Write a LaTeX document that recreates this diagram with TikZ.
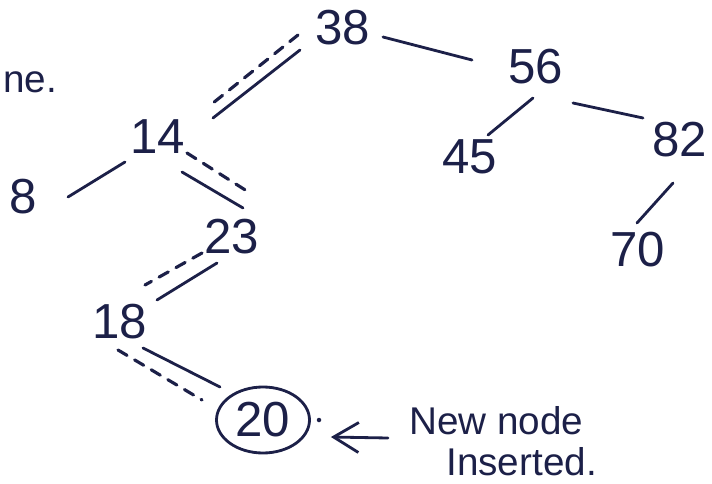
\documentclass[tikz,border=0pt]{standalone}
\usepackage{fontspec}
\setmainfont{Liberation Sans}
\usetikzlibrary{arrows.meta,shapes.geometric}
\definecolor{ink}{RGB}{28,32,72}
\begin{document}
\begin{tikzpicture}
[x=0.2mm, y=-0.2mm, line width=1.6pt, line cap=round,
num/.style={text=ink, font=\fontsize{28}{30}\selectfont, inner sep=0pt},
note/.style={text=ink, font=\fontsize{22}{25}\selectfont, inner sep=0pt},
edge/.style={draw=ink},
search/.style={draw=ink, line width=1.8pt, dash pattern=on 6pt off 5pt}]

\useasboundingbox (0,0) rectangle (712,484);

\foreach \n/\x/\y in {38/343/28, 56/536/67, 14/158/137, 45/470/157, 82/680/140,
                      8/23/197, 23/232/237, 70/638/250, 18/120/322} {
  \node[num] (n\n) at (\x,\y) {\n};
}
\node[num, draw=ink, ellipse, minimum width=18.6mm, minimum height=13.2mm] (n20) at (263,420) {20};
\fill[ink] (319,420) circle (0.45mm);

\node[note, anchor=west] (cut) at (2,82) {ne.};
\node[note, anchor=west] (new) at (408,421) {New node};
\node[note, anchor=west] (ins) at (445,462) {Inserted.};

\draw[edge] ([shift={(40,9)}]n38.center) -- ([shift={(-64,-7)}]n56.center);
\draw[edge] ([shift={(-3,31)}]n56.center) -- ([shift={(18,-22)}]n45.center);
\draw[edge] ([shift={(37,36)}]n56.center) -- ([shift={(-37,-22)}]n82.center);
\draw[edge] ([shift={(-7,43)}]n82.center) -- ([shift={(-1,-27)}]n70.center);
\draw[edge] ([shift={(-33,25)}]n14.center) -- ([shift={(45,0)}]n8.center);

\draw[edge] ([shift={(-43,22)}]n38.center) -- ([shift={(55,-19)}]n14.center);
\draw[search] ([shift={(-45,7)}]n38.center) -- ([shift={(50,-30)}]n14.center);

\draw[edge] ([shift={(24,35)}]n14.center) -- ([shift={(11,-29)}]n23.center);
\draw[search] ([shift={(29,16)}]n14.center) -- ([shift={(18,-44)}]n23.center);

\draw[edge] ([shift={(-15,26)}]n23.center) -- ([shift={(37,-22)}]n18.center);
\draw[search] ([shift={(-30,16)}]n23.center) -- ([shift={(25,-37)}]n18.center);

\draw[edge] ([shift={(23,26)}]n18.center) -- ([shift={(-43,-33)}]n20.center);
\draw[search] ([shift={(-2,28)}]n18.center) -- ([shift={(-61,-20)}]n20.center);

\draw[edge, -{Straight Barb[length=5mm, width=6mm]}] ([shift={(-20,17)}]new.west) -- ([shift={(20,17)}]n20.east);
\end{tikzpicture}
\end{document}
